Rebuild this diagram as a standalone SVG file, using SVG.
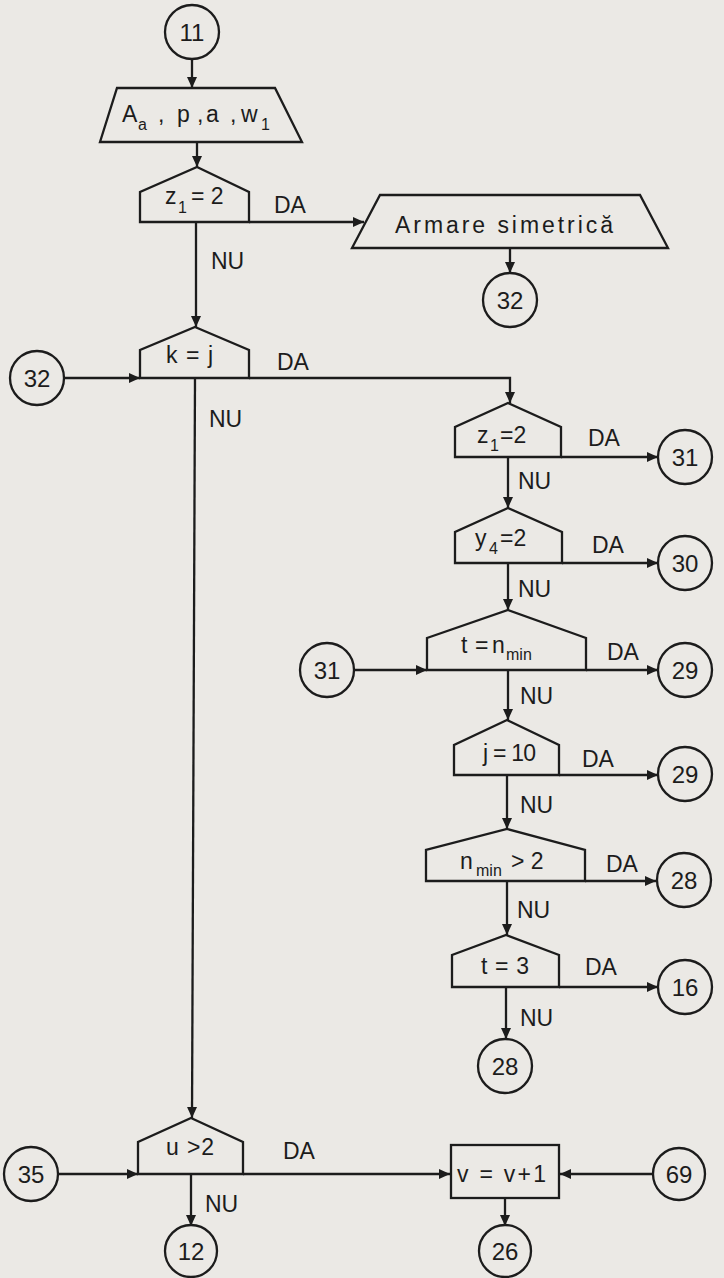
<svg xmlns="http://www.w3.org/2000/svg" width="724" height="1278" viewBox="0 0 724 1278">
<defs>
<marker id="ah" markerWidth="12" markerHeight="10" refX="11" refY="5" orient="auto" markerUnits="userSpaceOnUse"><path d="M0,0 L11,5 L0,10 z" fill="#1c1c1c"/></marker>
</defs>
<style>
.sh{fill:none;stroke:#1c1c1c;stroke-width:2.3;stroke-linejoin:miter}
.c{fill:none;stroke:#1c1c1c;stroke-width:2.3;marker-end:url(#ah)}
text{font-family:"Liberation Sans","DejaVu Sans",sans-serif;fill:#1c1c1c;font-size:23px}
.num{font-size:24px;text-anchor:middle}
.sub{font-size:16px}
</style>
<rect x="0" y="0" width="724" height="1278" fill="#ebe9e5"/>

<g id="connectors">
<path class="c" d="M192,59 V88"/>
<path class="c" d="M197,142 V167"/>
<path class="c" d="M249,222 H364"/>
<path class="c" d="M510,248 V273"/>
<path class="c" d="M196,222 V327"/>
<path class="c" d="M64,378 H140"/>
<path class="c" d="M249,378 H510 V403"/>
<path class="c" d="M195,378 L192,1118"/>
<path class="c" d="M561,457 H658"/>
<path class="c" d="M508,457 V508"/>
<path class="c" d="M562,563 H658"/>
<path class="c" d="M508,563 V610"/>
<path class="c" d="M354,670 H427"/>
<path class="c" d="M586,670 H658"/>
<path class="c" d="M508,670 V720"/>
<path class="c" d="M559,775 H658"/>
<path class="c" d="M507,775 V829"/>
<path class="c" d="M585,881 H656"/>
<path class="c" d="M507,881 V935"/>
<path class="c" d="M559,987 H658"/>
<path class="c" d="M506,987 V1039"/>
<path class="c" d="M58,1174 H138"/>
<path class="c" d="M243,1174 H450"/>
<path class="c" d="M653,1174 H560"/>
<path class="c" d="M505,1198 V1226"/>
<path class="c" d="M191,1174 V1226"/>
<text x="274" y="213">DA</text>
<text x="211" y="269">NU</text>
<text x="277" y="370">DA</text>
<text x="209" y="427">NU</text>
<text x="588" y="446">DA</text>
<text x="518" y="489">NU</text>
<text x="592" y="553">DA</text>
<text x="518" y="597">NU</text>
<text x="607" y="660">DA</text>
<text x="520" y="704">NU</text>
<text x="582" y="767">DA</text>
<text x="520" y="813">NU</text>
<text x="606" y="872">DA</text>
<text x="517" y="918">NU</text>
<text x="585" y="975">DA</text>
<text x="520" y="1026">NU</text>
<text x="283" y="1159">DA</text>
<text x="205" y="1212">NU</text>
</g>

<g id="n11"><circle class="sh" cx="192" cy="32" r="27"/><text class="num" x="192" y="41">11</text></g>

<g id="input1"><polygon class="sh" points="117,88 275,88 302,142 100,142"/>
<text y="122"><tspan x="122">A</tspan><tspan x="138" y="130" class="sub">a</tspan><tspan x="158" y="122">,</tspan><tspan x="177">p</tspan><tspan x="197">,</tspan><tspan x="206">a</tspan><tspan x="230">,</tspan><tspan x="241">w</tspan><tspan x="261" y="130" class="sub">1</tspan></text></g>

<g id="d_z1a"><polygon class="sh" points="197,167 249,192 249,222 140,222 140,192"/>
<text y="204"><tspan x="165">z</tspan><tspan x="178" y="213" class="sub">1</tspan><tspan x="191" y="204">= 2</tspan></text></g>

<g id="armare"><polygon class="sh" points="380,195 640,195 668,248 352,248"/>
<text x="395" y="233" textLength="218">Armare simetrică</text></g>

<g id="n32r"><circle class="sh" cx="510" cy="300" r="27"/><text class="num" x="510" y="309">32</text></g>

<g id="d_kj"><polygon class="sh" points="195,327 249,350 249,378 140,378 140,350"/>
<text x="166" y="363" textLength="47">k = j</text></g>

<g id="n32l"><circle class="sh" cx="37" cy="378" r="27"/><text class="num" x="37" y="387">32</text></g>

<g id="d_z1b"><polygon class="sh" points="508,403 561,427 561,457 455,457 455,427"/>
<text y="443"><tspan x="477">z</tspan><tspan x="490" y="451" class="sub">1</tspan><tspan x="500" y="443">=2</tspan></text></g>
<g id="n31a"><circle class="sh" cx="685" cy="457" r="27"/><text class="num" x="685" y="466">31</text></g>

<g id="d_y4"><polygon class="sh" points="508,508 562,532 562,563 455,563 455,532"/>
<text y="546"><tspan x="475">y</tspan><tspan x="489" y="554" class="sub">4</tspan><tspan x="500" y="546">=2</tspan></text></g>
<g id="n30"><circle class="sh" cx="685" cy="563" r="27"/><text class="num" x="685" y="572">30</text></g>

<g id="d_tn"><polygon class="sh" points="508,610 586,638 586,670 427,670 427,638"/>
<text y="653"><tspan x="461">t</tspan><tspan x="475">=</tspan><tspan x="492">n</tspan><tspan x="506" y="660" class="sub">min</tspan></text></g>
<g id="n31b"><circle class="sh" cx="327" cy="670" r="27"/><text class="num" x="327" y="679">31</text></g>
<g id="n29a"><circle class="sh" cx="685" cy="670" r="27"/><text class="num" x="685" y="679">29</text></g>

<g id="d_j10"><polygon class="sh" points="507,720 559,745 559,775 454,775 454,745"/>
<text x="483" y="761" textLength="53">j = 10</text></g>
<g id="n29b"><circle class="sh" cx="685" cy="774" r="27"/><text class="num" x="685" y="783">29</text></g>

<g id="d_nmin"><polygon class="sh" points="507,829 585,850 585,881 426,881 426,850"/>
<text y="869"><tspan x="460">n</tspan><tspan x="476" y="876" class="sub">min</tspan><tspan x="511" y="869">&gt; 2</tspan></text></g>
<g id="n28a"><circle class="sh" cx="684" cy="880" r="27"/><text class="num" x="684" y="889">28</text></g>

<g id="d_t3"><polygon class="sh" points="506,935 559,955 559,987 452,987 452,955"/>
<text x="481" y="974" textLength="48">t = 3</text></g>
<g id="n16"><circle class="sh" cx="685" cy="987" r="27"/><text class="num" x="685" y="996">16</text></g>

<g id="n28b"><circle class="sh" cx="505" cy="1066" r="27"/><text class="num" x="505" y="1075">28</text></g>

<g id="d_u2"><polygon class="sh" points="191,1118 243,1142 243,1174 138,1174 138,1142"/>
<text x="166" y="1155" textLength="48">u &gt;2</text></g>
<g id="n35"><circle class="sh" cx="31" cy="1174" r="27"/><text class="num" x="31" y="1183">35</text></g>

<g id="p_v"><rect class="sh" x="451" y="1145" width="108" height="53"/>
<text x="457" y="1182" textLength="89">v = v+1</text></g>
<g id="n69"><circle class="sh" cx="679" cy="1174" r="26"/><text class="num" x="679" y="1183">69</text></g>

<g id="n12"><circle class="sh" cx="191" cy="1251" r="26"/><text class="num" x="191" y="1260">12</text></g>
<g id="n26"><circle class="sh" cx="505" cy="1251" r="26"/><text class="num" x="505" y="1260">26</text></g>
</svg>
